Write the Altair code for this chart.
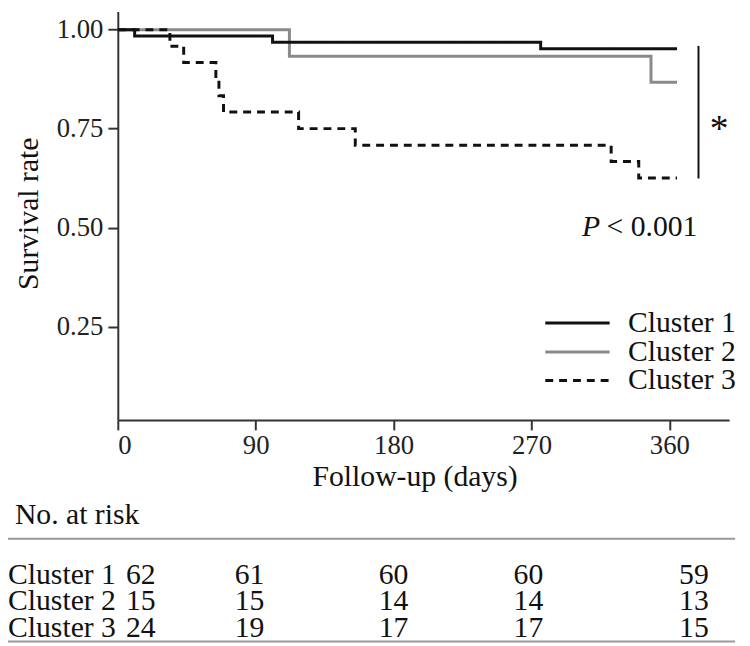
import altair as alt
import pandas as pd

# ---- data ----
clusters = ["Cluster 1", "Cluster 2", "Cluster 3"]
c1_days = [0, 11, 101, 276, 365]
c1_surv = [1.0, 0.984, 0.968, 0.952, 0.952]
c2_days = [0, 112, 348, 365]
c2_surv = [1.0, 0.933, 0.867, 0.867]
c3_days = [0, 34, 43, 64, 66, 69, 118, 155, 322, 340, 365]
c3_surv = [1.0, 0.958, 0.917, 0.875, 0.833, 0.792, 0.750, 0.708, 0.667, 0.625, 0.625]

x_ticks = [0, 90, 180, 270, 360]
y_ticks = [0.25, 0.50, 0.75, 1.00]

risk_c1 = [62, 61, 60, 60, 59]
risk_c2 = [15, 15, 14, 14, 13]
risk_c3 = [24, 19, 17, 17, 15]
risk_col_days = [15, 86, 180, 268, 376]

p_text = "< 0.001"

FONT = "Liberation Serif"

# ---- layout constants (pixels, not data) ----
ROW_Y = [570, 596, 623]
HEAD_Y = 509
HLINE_Y = [533, 637]

# ---- build tables ----
rows = []
for name, ds, ss in [("Cluster 2", c2_days, c2_surv), ("Cluster 1", c1_days, c1_surv), ("Cluster 3", c3_days, c3_surv)]:
    for d, s in zip(ds, ss):
        rows.append({"cluster": name, "day": d, "surv": s})
km = pd.DataFrame(rows)

xscale = alt.Scale(domain=[0, 399], nice=False, zero=False)
yscale = alt.Scale(domain=[0.014, 1.046], nice=False, zero=False)
cscale = alt.Scale(domain=clusters, range=["#111111", "#8a8a8a", "#111111"])
dscale = alt.Scale(domain=clusters, range=[[1, 0], [1, 0], [8, 6]])

xaxis = alt.Axis(values=x_ticks, title="Follow-up (days)", grid=False, tickSize=10, tickWidth=2,
                 domainWidth=2, domainColor="#333333", tickColor="#333333",
                 labelFont=FONT, labelFontSize=27, labelColor="#222222", labelPadding=3,
                 titleFont=FONT, titleFontSize=30, titleFontWeight="normal", titleColor="#111111",
                 titleX=300, titleY=57, titleBaseline="middle", titleAlign="center")
yaxis = alt.Axis(values=y_ticks, format=".2f", title="Survival rate", grid=False, tickSize=10, tickWidth=2,
                 domainWidth=2, domainColor="#333333", tickColor="#333333",
                 labelFont=FONT, labelFontSize=27, labelColor="#222222", labelPadding=5,
                 titleFont=FONT, titleFontSize=30, titleFontWeight="normal", titleColor="#111111",
                 titleX=-90, titleY=204, titleAngle=270, titleBaseline="middle", titleAlign="center")

lines = alt.Chart(km).mark_line(interpolate="step-after", strokeWidth=3, strokeCap="butt").encode(
    x=alt.X("day:Q", scale=xscale, axis=xaxis),
    y=alt.Y("surv:Q", scale=yscale, axis=yaxis),
    color=alt.Color("cluster:N", scale=cscale, legend=None),
    strokeDash=alt.StrokeDash("cluster:N", scale=dscale, legend=None),
    detail="cluster:N",
)

one = pd.DataFrame({"a": [0]})

sig_line = alt.Chart(one).mark_rule(color="#111111", strokeWidth=2).encode(
    x=alt.datum(379), y=alt.datum(0.959), y2=alt.datum(0.624)
)
star = alt.Chart(one).mark_text(text="*", font=FONT, fontSize=38, color="#111111", align="center", baseline="middle").encode(
    x=alt.datum(392.5), y=alt.datum(0.745)
)
p_italic = alt.Chart(one).mark_text(text="P", font=FONT, fontSize=30, fontStyle="italic", color="#111111", align="left", baseline="middle").encode(
    x=alt.datum(303), y=alt.datum(0.50)
)
p_rest = alt.Chart(one).mark_text(text=p_text, font=FONT, fontSize=30, color="#111111", align="left", baseline="middle").encode(
    x=alt.datum(319), y=alt.datum(0.50)
)

# legend (manual)
leg = pd.DataFrame({"cluster": clusters, "ly": [0.259, 0.186, 0.114]})
leg_lines = alt.Chart(leg).mark_rule(strokeWidth=3).encode(
    x=alt.datum(279), x2=alt.datum(321),
    y=alt.Y("ly:Q"),
    color=alt.Color("cluster:N", scale=cscale, legend=None),
    strokeDash=alt.StrokeDash("cluster:N", scale=dscale, legend=None),
)
leg_text = alt.Chart(leg).mark_text(font=FONT, fontSize=30, color="#111111", align="left", baseline="middle").encode(
    x=alt.datum(333), y=alt.Y("ly:Q"), text="cluster:N"
)

# number-at-risk table
table_layers = []
for name, vals, ry in zip(clusters, [risk_c1, risk_c2, risk_c3], ROW_Y):
    df = pd.DataFrame({"day": risk_col_days, "n": [str(v) for v in vals]})
    table_layers.append(
        alt.Chart(df).mark_text(font=FONT, fontSize=30, color="#111111", align="center", baseline="middle").encode(
            x=alt.X("day:Q"), y=alt.value(ry), text="n:N"
        )
    )
    table_layers.append(
        alt.Chart(one).mark_text(text=name, font=FONT, fontSize=30, color="#111111", align="left", baseline="middle").encode(
            x=alt.value(-111), y=alt.value(ry)
        )
    )
head = alt.Chart(one).mark_text(text="No. at risk", font=FONT, fontSize=30, color="#111111", align="left", baseline="middle").encode(
    x=alt.value(-104), y=alt.value(HEAD_Y)
)
for hy in HLINE_Y:
    table_layers.append(
        alt.Chart(one).mark_rule(color="#9a9a9a", strokeWidth=2).encode(
            x=alt.value(-111), x2=alt.value(624), y=alt.value(hy)
        )
    )

chart = alt.layer(
    lines, sig_line, star, p_italic, p_rest, leg_lines, leg_text, head, *table_layers
).properties(
    width=618, height=413,
    autosize=alt.AutoSizeParams(type="none"),
    padding={"left": 111, "top": 0, "right": 13, "bottom": 225},
).configure_view(strokeWidth=0)

chart.save("out.html", embed_options={"renderer": "svg", "actions": False})
